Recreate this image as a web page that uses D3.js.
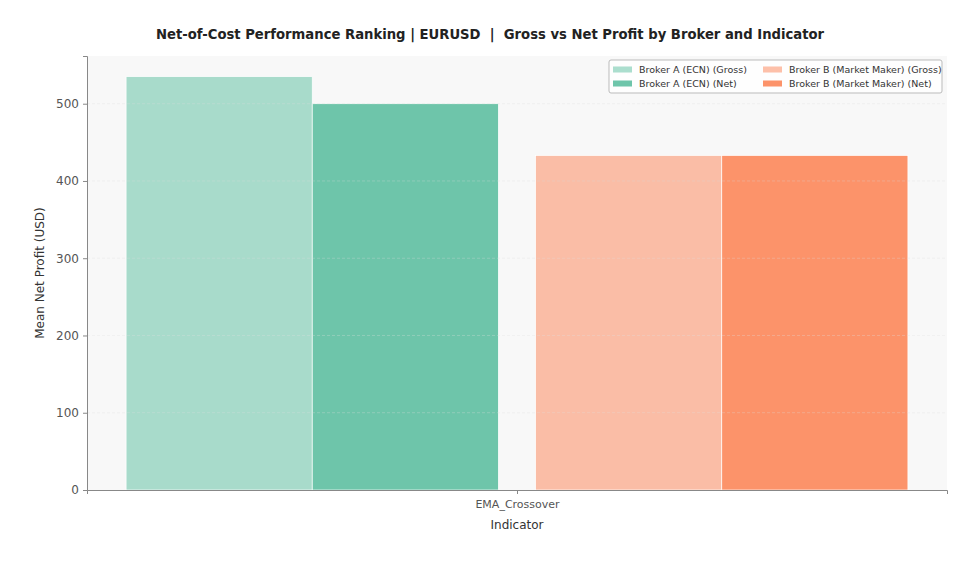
<!DOCTYPE html>
<html>
<head>
<meta charset="utf-8">
<script src="https://cdn.jsdelivr.net/npm/d3@7"></script>
<style>
  body { margin: 0; background: #fff; }
  text { font-family: "DejaVu Sans", sans-serif; }
</style>
</head>
<body>
<div id="chart"></div>
<script>
// data
const indicators = ["EMA_Crossover"]
const brokers = ["Broker A (ECN)", "Broker B (Market Maker)"]
const grossProfit = [535, 433]
const netProfit = [500, 433]
const yTicks = [0, 100, 200, 300, 400, 500]
const baseColors = ["#66c2a5", "#fc8d62"]

const W = 980, H = 575
const margin = {top: 56, right: 33, bottom: 85, left: 87}
const width = W - margin.left - margin.right,
      height = H - margin.top - margin.bottom

const svg = d3.select("#chart").append("svg")
  .attr("width", W).attr("height", H)

const g = svg.append("g")
  .attr("transform", `translate(${margin.left},${margin.top})`)

// plot background
g.append("rect")
  .attr("width", width).attr("height", height)
  .attr("fill", "#f8f8f8")

// bars: each broker gets a gross + net bar, width 0.2, small gap around the group center
const barW = 0.2, gap = 0.02
const bars = []
brokers.forEach((b, i) => {
  const start = i === 0 ? -gap - 2 * barW : gap
  bars.push({broker: b, kind: "Gross", value: grossProfit[i], x0: start, color: baseColors[i], alpha: 0.55})
  bars.push({broker: b, kind: "Net", value: netProfit[i], x0: start + barW, color: baseColors[i], alpha: 0.95})
})

const span = gap + 2 * barW
const x = d3.scaleLinear()
  .domain([-span * 1.1, span * 1.1])
  .range([0, width])

const yMax = d3.max(grossProfit.concat(netProfit)) * 1.05
const y = d3.scaleLinear().domain([0, yMax]).range([height, 0])

g.selectAll(".bar")
  .data(bars)
  .enter()
  .append("rect")
    .attr("class", "bar")
    .attr("x", d => x(d.x0))
    .attr("y", d => y(d.value))
    .attr("width", d => x(d.x0 + barW) - x(d.x0))
    .attr("height", d => y(0) - y(d.value))
    .attr("fill", d => d.color)
    .attr("fill-opacity", d => d.alpha)
    .attr("stroke", "#fff")
    .attr("stroke-width", 0.7)

// faint dashed grid on top
g.selectAll(".grid")
  .data(yTicks.filter(t => t > 0))
  .enter()
  .append("line")
    .attr("x1", 0).attr("x2", width)
    .attr("y1", d => y(d)).attr("y2", d => y(d))
    .attr("stroke", "#ddd")
    .attr("stroke-opacity", 0.3)
    .attr("stroke-dasharray", "3,2")

// axes
const yAxis = g.append("g")
  .call(d3.axisLeft(y).tickValues(yTicks).tickSize(4).tickPadding(4))
yAxis.select(".domain").attr("stroke", "#888")
yAxis.selectAll(".tick line").attr("stroke", "#888")
yAxis.selectAll(".tick text").attr("fill", "#555").attr("font-size", 12)
  .style("font-family", "DejaVu Sans, sans-serif")

const xAxis = g.append("g")
  .attr("transform", `translate(0,${height})`)
  .call(d3.axisBottom(x).tickValues([0]).tickFormat((d, i) => indicators[i]).tickSize(4).tickPadding(6))
xAxis.select(".domain").attr("stroke", "#888")
xAxis.selectAll(".tick line").attr("stroke", "#888")
xAxis.selectAll(".tick text").attr("fill", "#555").attr("font-size", 11)
  .style("font-family", "DejaVu Sans, sans-serif")

// labels
svg.append("text")
  .attr("x", 490).attr("y", 39)
  .attr("text-anchor", "middle")
  .style("white-space", "pre")
  .attr("font-size", 13.2).attr("font-weight", "bold").attr("fill", "#222")
  .text("Net-of-Cost Performance Ranking | EURUSD  |  Gross vs Net Profit by Broker and Indicator")

svg.append("text")
  .attr("x", margin.left + width / 2).attr("y", 529)
  .attr("text-anchor", "middle")
  .attr("font-size", 12).attr("fill", "#333")
  .text("Indicator")

svg.append("text")
  .attr("transform", `translate(44,${margin.top + height / 2}) rotate(-90)`)
  .attr("text-anchor", "middle")
  .attr("font-size", 12).attr("fill", "#333")
  .text("Mean Net Profit (USD)")

// legend, two columns
const legend = svg.append("g").attr("transform", "translate(609,60)")
legend.append("rect")
  .attr("width", 333).attr("height", 33).attr("rx", 2)
  .attr("fill", "#fff").attr("fill-opacity", 0.8)
  .attr("stroke", "#bbb")

const colX = [4, 154]
bars.forEach((d, i) => {
  const col = Math.floor(i / 2), row = i % 2
  const item = legend.append("g")
    .attr("transform", `translate(${colX[col]},${5 + row * 14})`)
  item.append("rect")
    .attr("width", 19).attr("height", 6).attr("y", 1.5)
    .attr("fill", d.color).attr("fill-opacity", d.alpha)
  item.append("text")
    .attr("x", 26).attr("y", 8)
    .attr("font-size", 9.5).attr("fill", "#333")
    .text(`${d.broker} (${d.kind})`)
})
</script>
</body>
</html>
